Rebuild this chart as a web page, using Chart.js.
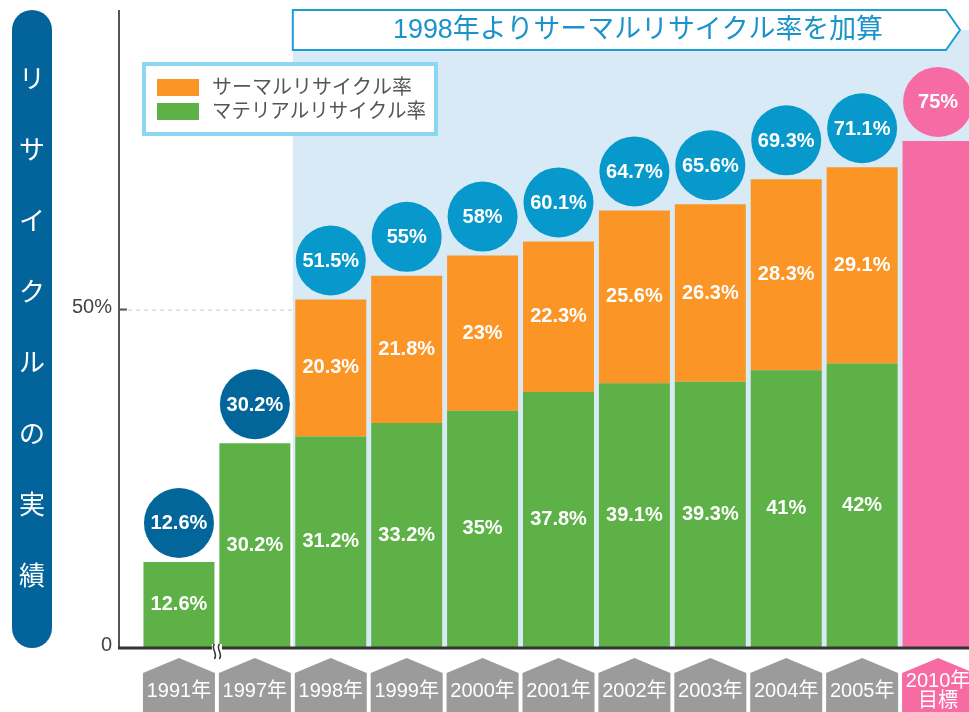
<!DOCTYPE html>
<html>
<head>
<meta charset="utf-8">
<script src="https://cdn.jsdelivr.net/npm/chart.js@4/dist/chart.umd.min.js"></script>
<style>
  html, body { margin: 0; padding: 0; background: #fff; overflow: hidden; }
  #wrap { width: 980px; height: 712px; position: relative; }
</style>
</head>
<body>
<div id="wrap"><canvas id="chartReciclaje"></canvas></div>
<script>
// datos de la grafica
const years = ["1991年", "1997年", "1998年", "1999年", "2000年", "2001年", "2002年", "2003年", "2004年", "2005年", ["2010年", "目標"]];
const materialRate = [12.6, 30.2, 31.2, 33.2, 35, 37.8, 39.1, 39.3, 41, 42, null];
const thermalRate = [null, null, 20.3, 21.8, 23, 22.3, 25.6, 26.3, 28.3, 29.1, null];
const targetRate = [null, null, null, null, null, null, null, null, null, null, 75];
const totalRate = [12.6, 30.2, 51.5, 55, 58, 60.1, 64.7, 65.6, 69.3, 71.1, 75];
const yTicks = [0, 50];

const GREEN = "#5db146";
const ORANGE = "#fb9526";
const PINK = "#f76ba5";
const DARKBLUE = "#03669b";
const BLUE = "#0799cc";
const JP = "'Liberation Sans', 'Noto Sans CJK JP', sans-serif";

const ctx = document.getElementById("chartReciclaje");

const decoPlugin = {
  id: "deco",
  beforeDatasetsDraw(chart) {
    const c = chart.ctx;
    const x = chart.scales.x;
    const y = chart.scales.y;
    const slot = x.getPixelForValue(1) - x.getPixelForValue(0);
    const bgLeft = x.getPixelForValue(2) - slot / 2;
    c.save();
    // linea punteada 50%
    c.strokeStyle = "#c8c8c8";
    c.lineWidth = 1;
    c.setLineDash([4, 4]);
    c.beginPath();
    c.moveTo(120, y.getPixelForValue(50) + 0.5);
    c.lineTo(bgLeft, y.getPixelForValue(50) + 0.5);
    c.stroke();
    c.setLineDash([]);
    // fondo azul desde 1998
    c.fillStyle = "#d7eaf5";
    c.fillRect(bgLeft, 30, chart.width - bgLeft, y.getPixelForValue(0) - 30);
    c.restore();
  },
  afterDatasetsDraw(chart) {
    const c = chart.ctx;
    const x = chart.scales.x;
    const y = chart.scales.y;
    const y0 = y.getPixelForValue(0);
    const slot = x.getPixelForValue(1) - x.getPixelForValue(0);
    const bgLeft = x.getPixelForValue(2) - slot / 2;
    c.save();

    // * etiquetas dentro de las barras
    c.fillStyle = "#fff";
    c.font = "bold 20px " + JP;
    c.textAlign = "center";
    c.textBaseline = "middle";
    for (let i = 0; i < years.length; i++) {
      const cx = x.getPixelForValue(i);
      if (materialRate[i] != null) {
        c.fillText(materialRate[i] + "%", cx, (y0 + y.getPixelForValue(materialRate[i])) / 2, 68);
      }
      if (thermalRate[i] != null) {
        const a = y.getPixelForValue(materialRate[i]);
        const b = y.getPixelForValue(materialRate[i] + thermalRate[i]);
        c.fillText(thermalRate[i] + "%", cx, (a + b) / 2, 68);
      }
    }

    // * circulos con el total
    for (let i = 0; i < years.length; i++) {
      const cx = x.getPixelForValue(i);
      const cy = y.getPixelForValue(totalRate[i]) - 39;
      c.beginPath();
      c.arc(cx, cy, 35, 0, Math.PI * 2);
      c.fillStyle = i < 2 ? DARKBLUE : (i == years.length - 1 ? PINK : BLUE);
      c.fill();
      c.fillStyle = "#fff";
      c.font = "bold 20px " + JP;
      c.fillText(totalRate[i] + "%", cx, cy + 1, 66);
    }

    // * ejes
    c.strokeStyle = "#555";
    c.lineWidth = 2;
    c.beginPath();
    c.moveTo(119, 10);
    c.lineTo(119, y0);
    c.moveTo(119, y.getPixelForValue(50));
    c.lineTo(127, y.getPixelForValue(50));
    c.stroke();
    c.strokeStyle = "#333";
    c.lineWidth = 3;
    c.beginPath();
    c.moveTo(118, y0 + 1);
    c.lineTo(chart.width, y0 + 1);
    c.stroke();

    // marca de corte entre 1991 y 1997
    const bx = (x.getPixelForValue(0) + x.getPixelForValue(1)) / 2;
    c.fillStyle = "#fff";
    c.fillRect(bx - 5, y0 - 3, 10, 16);
    c.strokeStyle = "#333";
    c.lineWidth = 1.5;
    [-2.5, 2.5].forEach(function (d) {
      c.beginPath();
      c.moveTo(bx + d, y0 - 3);
      c.bezierCurveTo(bx + d - 4, y0 + 2, bx + d + 4, y0 + 6, bx + d, y0 + 12);
      c.stroke();
    });

    // * etiquetas de los ticks Y
    c.fillStyle = "#444";
    c.font = "20px " + JP;
    c.textAlign = "right";
    yTicks.forEach(function (t) {
      c.fillText(t == 0 ? "0" : t + "%", 112, y.getPixelForValue(t) - 2);
    });

    // * etiquetas X en pentagono
    for (let i = 0; i < years.length; i++) {
      const cx = x.getPixelForValue(i);
      const hw = 36;
      const last = i == years.length - 1;
      c.fillStyle = last ? PINK : "#9b9b9b";
      c.beginPath();
      c.moveTo(cx - hw, 673);
      c.lineTo(cx, 658);
      c.lineTo(cx + hw, 673);
      c.lineTo(cx + hw, 712);
      c.lineTo(cx - hw, 712);
      c.closePath();
      c.fill();
      c.fillStyle = "#fff";
      c.textAlign = "center";
      c.font = "20px " + JP;
      if (Array.isArray(years[i])) {
        c.fillText(years[i][0], cx, 681, 70);
        c.fillText(years[i][1], cx, 701, 70);
      } else {
        c.fillText(years[i], cx, 691, 70);
      }
    }

    // * banner superior
    c.fillStyle = "#fff";
    c.strokeStyle = "#1b9fd2";
    c.lineWidth = 2;
    c.beginPath();
    c.moveTo(bgLeft, 10);
    c.lineTo(946, 10);
    c.lineTo(960, 30);
    c.lineTo(946, 50);
    c.lineTo(bgLeft, 50);
    c.closePath();
    c.fill();
    c.stroke();
    c.fillStyle = "#1a93cb";
    c.font = "27px " + JP;
    c.textAlign = "center";
    c.fillText("1998年よりサーマルリサイクル率を加算", 638, 31, 490);

    // * leyenda
    c.fillStyle = "#fff";
    c.fillRect(144, 64, 292, 70);
    c.strokeStyle = "#8bd7f2";
    c.lineWidth = 4;
    c.strokeRect(144, 64, 292, 70);
    c.fillStyle = ORANGE;
    c.fillRect(157, 79, 42, 17);
    c.fillStyle = GREEN;
    c.fillRect(157, 103, 42, 17);
    c.fillStyle = "#555";
    c.font = "20px " + JP;
    c.textAlign = "left";
    c.fillText("サーマルリサイクル率", 212, 88, 214);
    c.fillText("マテリアルリサイクル率", 212, 112, 214);

    // * titulo vertical
    c.fillStyle = "#03649b";
    c.beginPath();
    c.roundRect(12, 10, 40, 638, 20);
    c.fill();
    c.fillStyle = "#fff";
    c.font = "26px " + JP;
    c.textAlign = "center";
    const chars = ["リ", "サ", "イ", "ク", "ル", "の", "実", "績"];
    chars.forEach(function (ch, k) {
      c.fillText(ch, 32, 81 + k * 71);
    });

    c.restore();
  },
};

const myChart = new Chart(ctx, {
  type: "bar",
  data: {
    labels: years,
    datasets: [
      {
        label: "マテリアルリサイクル率",
        data: materialRate,
        backgroundColor: GREEN,
        borderWidth: 0,
      },
      {
        label: "サーマルリサイクル率",
        data: thermalRate,
        backgroundColor: ORANGE,
        borderWidth: 0,
      },
      {
        label: "目標",
        data: targetRate,
        backgroundColor: PINK,
        borderWidth: 0,
      },
    ],
  },
  options: {
    responsive: true,
    maintainAspectRatio: false,
    animation: false,
    events: [],
    layout: {
      padding: { left: 141, right: 4, top: 10, bottom: 65 },
    },
    datasets: {
      bar: { categoryPercentage: 1, barPercentage: 0.935 },
    },
    plugins: {
      legend: { display: false },
      tooltip: { enabled: false },
    },
    scales: {
      x: { stacked: true, display: false },
      y: { stacked: true, display: false, min: 0, max: 94.4 },
    },
  },
  plugins: [decoPlugin],
});
</script>
</body>
</html>
